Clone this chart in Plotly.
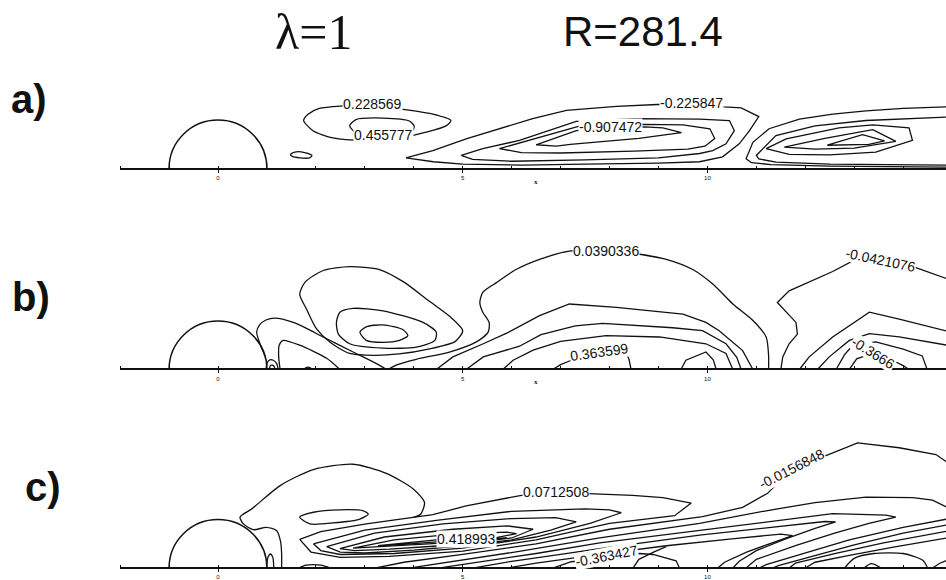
import plotly.graph_objects as go

# ---------------------------------------------------------------- data
# body (half cylinder) and axis
BODY_CENTER = 0.0
BODY_RADIUS = 1.0
AXIS_XMIN = -2.0
TICK_MAJOR = [0, 5, 10]
TICK_MAJOR_TEXT = ["0", "5", "10"]
TICK_MINOR = list(range(-2, 15))
X_TITLE_POS = 6.5

TITLE_LEFT = "λ=1"
TITLE_RIGHT = "R=281.4"
PANEL_TAGS = ["a)", "b)", "c)"]

# ---- panel a : contour lines (x, y) ----
a_pos_outer = [(1.75, 0.99), (1.84, 1.12), (2.07, 1.24), (2.55, 1.29), (3.16, 1.31), (3.78, 1.22),
               (4.39, 1.12), (4.76, 0.99), (4.66, 0.88), (4.25, 0.75), (3.71, 0.63), (2.96, 0.58),
               (2.35, 0.63), (1.94, 0.78), (1.75, 0.99)]
a_pos_inner = [(2.69, 0.88), (2.82, 1.01), (3.37, 1.04), (3.91, 0.98), (4.01, 0.87), (3.95, 0.75),
               (3.38, 0.69), (2.82, 0.74), (2.69, 0.88)]
a_pos_small = [(1.48, 0.29), (1.57, 0.34), (1.77, 0.33), (1.92, 0.27), (1.87, 0.22), (1.67, 0.22),
               (1.52, 0.25), (1.48, 0.29)]
a_neg1_l1 = [(3.84, 0.22), (4.39, 0.37), (5.07, 0.61), (5.76, 0.83), (6.43, 1.03), (7.12, 1.20),
             (8.14, 1.28), (8.98, 1.32), (9.67, 1.33), (10.34, 1.27), (10.69, 1.25), (11.05, 1.07),
             (10.86, 0.78), (10.65, 0.51), (10.31, 0.24), (9.84, 0.14), (9.0, 0.11), (7.5, 0.09),
             (6.2, 0.07), (5.0, 0.09), (4.4, 0.14), (3.84, 0.22)]
a_neg1_l2 = [(4.97, 0.27), (5.41, 0.41), (6.16, 0.58), (6.8, 0.80), (7.32, 0.97), (8.54, 1.03),
             (9.84, 1.02), (10.45, 0.99), (10.55, 0.78), (10.38, 0.51), (10.11, 0.37), (9.84, 0.31),
             (9.0, 0.22), (7.5, 0.18), (6.0, 0.15), (5.2, 0.19), (4.97, 0.27)]
a_neg1_l3 = [(5.75, 0.41), (6.3, 0.57), (6.9, 0.75), (7.4, 0.88), (8.7, 0.91), (9.5, 0.90),
             (10.05, 0.82), (10.15, 0.62), (9.95, 0.46), (9.6, 0.40), (8.5, 0.36), (7.0, 0.32),
             (6.2, 0.33), (5.75, 0.41)]
a_neg1_l4 = [(6.50, 0.49), (7.0, 0.66), (7.32, 0.78), (7.9, 0.84), (8.71, 0.86), (9.09, 0.84),
             (9.47, 0.74), (8.6, 0.62), (7.8, 0.56), (7.2, 0.50), (6.91, 0.46), (6.50, 0.49)]
a_neg2_l1 = [(14.9, 0.03), (12.5, 0.05), (11.3, 0.08), (10.9, 0.12), (10.79, 0.20), (10.93, 0.54),
             (11.26, 0.82), (11.88, 1.02), (12.56, 1.12), (13.24, 1.19), (14.0, 1.24), (14.9, 1.27)]
a_neg2_l2 = [(14.9, 0.07), (12.5, 0.09), (11.4, 0.13), (11.05, 0.20), (11.0, 0.27), (11.40, 0.68),
             (12.2, 0.88), (13.24, 0.99), (14.9, 1.06)]
a_neg2_l3 = [(11.20, 0.41), (11.61, 0.61), (12.69, 0.84), (13.38, 0.90), (14.12, 0.84), (14.19, 0.58),
             (13.44, 0.34), (12.5, 0.28), (11.67, 0.29), (11.20, 0.41)]
a_neg2_l4 = [(11.57, 0.44), (12.4, 0.62), (13.38, 0.80), (13.85, 0.56), (13.0, 0.42), (12.2, 0.40),
             (11.57, 0.44)]
a_neg2_l5 = [(12.45, 0.48), (13.17, 0.70), (13.62, 0.57), (13.3, 0.50), (12.45, 0.48)]
a_labels = [("0.228569", 3.16, 1.33, 0), ("0.455777", 3.38, 0.69, 0),
            ("-0.225847", 9.67, 1.36, 0), ("-0.907472", 8.02, 0.85, 0)]

# ---- panel b ----
b_wall1 = [(0.96, 0.28), (0.85, 0.55), (0.79, 0.77), (0.85, 0.92), (0.98, 1.02), (1.16, 1.06),
           (1.54, 0.97), (2.15, 0.67), (2.76, 0.36), (3.24, 0.12), (3.44, 0.0)]
b_wall2 = [(1.27, 0.0), (1.24, 0.25), (1.25, 0.50), (1.33, 0.60), (1.67, 0.50), (2.22, 0.23),
           (2.49, 0.0)]
b_tiny1 = [(0.98, 0.0), (1.01, 0.15), (1.06, 0.20), (1.13, 0.19), (1.20, 0.12), (1.23, 0.0)]
b_tiny2 = [(1.05, 0.0), (1.07, 0.08), (1.11, 0.09), (1.15, 0.06), (1.16, 0.0)]
b_bump = [(1.75, 0.0), (1.80, 0.04), (1.88, 0.04), (1.93, 0.0)]
b_lobe1 = [(1.67, 1.55), (1.78, 1.80), (2.15, 2.04), (2.69, 2.12), (3.3, 2.06), (3.8, 1.80),
           (4.3, 1.42), (4.75, 1.08), (5.0, 0.80), (4.85, 0.58), (4.3, 0.42), (3.7, 0.32),
           (3.2, 0.29), (2.69, 0.33), (2.29, 0.56), (2.01, 0.84), (1.81, 1.24), (1.67, 1.55)]
b_lobe2 = [(2.42, 0.97), (2.49, 1.18), (2.76, 1.26), (3.37, 1.21), (4.19, 0.97), (4.46, 0.77),
           (4.43, 0.60), (4.05, 0.46), (3.37, 0.44), (2.69, 0.53), (2.46, 0.73), (2.42, 0.97)]
b_lobe3 = [(2.90, 0.77), (3.03, 0.88), (3.37, 0.92), (3.78, 0.82), (3.88, 0.70), (3.71, 0.60),
           (3.37, 0.56), (3.03, 0.60), (2.90, 0.77)]
b_arch = [(3.48, 0.0), (3.64, 0.09), (4.05, 0.21), (4.73, 0.36), (5.28, 0.57), (5.52, 0.77),
          (5.54, 0.97), (5.41, 1.18), (5.35, 1.38), (5.41, 1.59), (5.69, 1.79), (6.09, 2.06),
          (6.6, 2.28), (7.18, 2.44), (7.92, 2.46), (8.65, 2.37), (9.16, 2.27), (9.70, 2.06),
          (10.11, 1.76), (10.52, 1.35), (10.93, 1.01), (11.20, 0.67), (11.25, 0.30), (11.25, 0.0)]
b_arch2 = [(4.46, 0.0), (4.80, 0.26), (5.42, 0.53), (5.9, 0.75), (6.57, 1.11), (7.18, 1.35),
           (8.14, 1.28), (9.50, 1.14), (9.97, 0.97), (10.24, 0.80), (10.72, 0.39), (10.93, 0.0)]
b_arch3 = [(5.07, 0.0), (5.42, 0.26), (6.16, 0.48), (6.6, 0.72), (7.3, 0.90), (7.86, 0.95),
           (9.29, 0.86), (9.90, 0.80), (10.38, 0.53), (10.60, 0.25), (10.69, 0.0)]
b_arch4 = [(5.82, 0.0), (6.03, 0.19), (6.44, 0.40), (7.0, 0.58), (7.93, 0.70), (9.02, 0.67),
           (9.97, 0.53), (10.38, 0.33), (10.52, 0.0)]
b_arch5 = [(6.84, 0.0), (7.0, 0.10), (7.22, 0.19), (7.8, 0.33), (8.34, 0.36), (8.40, 0.2),
           (8.44, 0.0)]
b_arch6 = [(9.46, 0.0), (9.56, 0.19), (9.97, 0.36), (10.12, 0.2), (10.18, 0.0)]
b_neg1 = [(11.5, 0.0), (11.54, 0.26), (11.67, 0.53), (11.84, 0.73), (11.81, 0.97), (11.61, 1.18),
          (11.43, 1.38), (11.67, 1.62), (12.56, 2.02), (12.97, 2.24), (13.51, 2.26), (14.26, 2.10),
          (14.9, 1.87)]
b_neg2 = [(11.88, 0.0), (12.08, 0.26), (12.56, 0.67), (13.31, 1.18), (13.92, 1.04), (14.9, 0.79)]
b_neg3 = [(12.25, 0.0), (12.49, 0.26), (12.9, 0.60), (13.31, 0.74), (13.92, 0.67), (14.9, 0.50)]
b_neg4 = [(12.63, 0.0), (12.8, 0.30), (12.97, 0.50), (13.44, 0.57), (14.0, 0.42), (14.39, 0.28),
          (14.49, 0.0)]
b_neg5 = [(12.9, 0.0), (13.05, 0.22), (13.37, 0.33), (13.8, 0.18), (14.0, 0.08), (14.12, 0.0)]
b_labels = [("0.0390336", 7.92, 2.45, 0), ("-0.0421076", 13.54, 2.25, 12),
            ("0.363599", 7.80, 0.36, -8), ("-0.3666", 13.39, 0.33, 32)]

# ---- panel c ----
c_tiny = [(0.99, 0.0), (1.02, 0.22), (1.07, 0.29), (1.12, 0.22), (1.14, 0.0)]
c_bump = [(1.65, 0.0), (1.80, 0.06), (2.10, 0.06), (2.30, 0.0)]
c_lobe = [(1.30, 0.0), (1.30, 0.30), (1.28, 0.54), (1.20, 0.77), (0.99, 0.84), (0.72, 0.79),
          (0.52, 0.91), (0.45, 1.05), (0.69, 1.22), (1.27, 1.70), (1.95, 2.03), (2.76, 2.14),
          (3.44, 1.95), (3.99, 1.63), (4.22, 1.35), (4.14, 1.11), (4.0, 1.05)]
c_lobe_in = [(1.67, 1.05), (1.95, 1.15), (2.49, 1.20), (2.97, 1.18), (3.07, 1.11), (2.90, 1.01),
             (2.35, 0.93), (1.88, 0.91), (1.67, 1.05)]
c_pos0 = [(1.67, 0.59), (2.1, 0.75), (3.03, 0.91), (4.0, 1.05), (4.39, 1.10), (5.07, 1.28),
          (5.75, 1.42), (6.2, 1.50), (6.91, 1.56), (8.47, 1.50), (9.09, 1.45), (9.67, 1.34),
          (9.33, 1.08), (8.0, 0.92), (6.5, 0.58), (5.0, 0.35), (3.5, 0.24), (2.5, 0.22),
          (1.9, 0.33), (1.67, 0.59)]
c_pos1 = [(1.95, 0.50), (3.0, 0.78), (4.5, 0.99), (6.0, 1.17), (7.5, 1.22), (8.0, 1.20),
          (8.24, 1.14), (7.6, 0.92), (6.5, 0.64), (5.0, 0.41), (3.6, 0.30), (2.5, 0.28),
          (2.1, 0.36), (1.95, 0.50)]
c_pos2 = [(2.22, 0.44), (3.2, 0.72), (4.6, 0.91), (6.0, 1.02), (6.9, 1.04), (7.32, 0.95),
          (6.8, 0.78), (6.0, 0.58), (5.0, 0.46), (4.0, 0.37), (3.0, 0.31), (2.5, 0.33), (2.22, 0.44)]
c_pos3 = [(2.49, 0.40), (3.4, 0.64), (4.8, 0.80), (5.9, 0.87), (6.44, 0.80), (6.0, 0.62),
          (5.2, 0.52), (4.4, 0.45), (3.5, 0.39), (2.8, 0.36), (2.49, 0.40)]
c_pos4 = [(2.76, 0.41), (3.6, 0.58), (4.8, 0.70), (5.9, 0.74), (6.1, 0.71), (5.4, 0.57),
          (4.3, 0.50), (3.4, 0.44), (2.76, 0.41)]
c_pos5 = [(3.27, 0.46), (3.9, 0.53), (4.46, 0.58), (5.1, 0.60), (5.69, 0.62), (5.9, 0.62),
          (5.5, 0.59), (4.6, 0.55), (3.8, 0.49), (3.27, 0.46)]
c_neg0 = [(3.2, 0.0), (3.8, 0.12), (5.0, 0.28), (6.5, 0.50), (8.0, 0.80), (9.3, 0.97), (9.9, 1.06),
          (10.72, 1.25), (11.23, 1.54), (11.71, 2.03), (12.46, 2.34), (13.07, 2.58), (13.92, 2.48),
          (14.67, 2.34), (14.9, 2.18)]
c_neg1 = [(3.9, 0.0), (4.8, 0.14), (6.0, 0.32), (7.8, 0.62), (9.84, 0.92), (11.2, 1.18),
          (12.2, 1.35), (13.24, 1.46), (14.2, 1.45), (14.6, 1.40), (14.9, 1.25)]
c_neg2 = [(4.5, 0.0), (5.4, 0.14), (6.5, 0.30), (7.8, 0.52), (10.52, 0.86), (12.56, 1.12),
          (13.65, 1.09), (13.85, 1.05), (13.3, 0.92), (12.6, 0.72), (11.8, 0.46), (11.0, 0.18),
          (10.79, 0.0)]
c_neg3 = [(5.2, 0.0), (6.0, 0.14), (7.0, 0.28), (7.8, 0.40), (9.84, 0.68), (11.5, 0.86),
          (12.4, 0.96), (12.62, 0.95), (12.2, 0.82), (11.6, 0.60), (11.0, 0.36), (10.65, 0.14),
          (10.52, 0.0)]
c_neg4 = [(5.9, 0.0), (6.5, 0.10), (7.8, 0.28), (9.16, 0.46), (10.5, 0.60), (11.5, 0.70),
          (11.74, 0.67), (11.4, 0.55), (10.8, 0.33), (10.35, 0.12), (10.21, 0.0)]
c_neg5 = [(6.84, 0.0), (7.22, 0.13), (7.93, 0.21), (8.61, 0.30), (8.89, 0.28), (9.36, 0.15),
          (9.43, 0.0)]
c_cross = [(8.48, 0.0), (8.6, 0.18), (8.9, 0.33), (9.16, 0.44)]
c_right1 = [(14.9, 1.01), (14.0, 0.84), (12.9, 0.58), (11.9, 0.28), (11.2, 0.07), (11.06, 0.0)]
c_right0 = [(14.9, 0.89), (14.0, 0.72), (13.0, 0.48), (12.0, 0.20), (11.45, 0.05), (11.33, 0.0)]
c_rise1 = [(11.67, 0.0), (11.8, 0.10), (12.6, 0.30), (13.6, 0.52), (14.9, 0.76)]
c_rise2 = [(12.0, 0.0), (12.2, 0.12), (12.9, 0.26), (13.8, 0.43), (14.9, 0.62)]
c_cell = [(12.8, 0.0), (13.0, 0.20), (13.4, 0.30), (14.0, 0.30), (14.4, 0.16), (14.5, 0.0)]
c_cell_in = [(13.2, 0.0), (13.35, 0.09), (13.55, 0.0)]
c_edge = [(14.6, 0.0), (14.75, 0.10), (14.9, 0.16)]
c_labels = [("0.0712508", 6.91, 1.57, 0), ("0.418993", 5.08, 0.59, 0),
            ("-0.0156848", 11.71, 2.05, -27), ("-0.363427", 7.93, 0.24, -11)]

# ---------------------------------------------------------------- build
W, H = 946, 580
UNIT = 48.94          # pixels per body radius (equal aspect)
X0_PX = 218.0         # pixel column of x = 0
XMAX = (W - X0_PX) / UNIT
XDOM0 = (X0_PX + AXIS_XMIN * UNIT) / W
AXIS_PY = [170.0, 372.7, 573.0]
YTOP = [1.6, 2.7, 2.8]
YBOT = -0.14
FONT_SANS = "Liberation Sans, Arial, sans-serif"

panels = [
    dict(smooth=[a_pos_outer, a_pos_inner, a_pos_small],
         sharp=[a_neg1_l1, a_neg1_l2, a_neg1_l3, a_neg1_l4,
                a_neg2_l1, a_neg2_l2, a_neg2_l3, a_neg2_l4, a_neg2_l5],
         labels=a_labels, xtitle=True),
    dict(smooth=[b_wall1, b_wall2, b_tiny1, b_tiny2, b_bump, b_lobe1, b_lobe2, b_lobe3, b_arch],
         sharp=[b_arch2, b_arch3, b_arch4, b_arch5, b_arch6,
                b_neg1, b_neg2, b_neg3, b_neg4, b_neg5],
         labels=b_labels, xtitle=True),
    dict(smooth=[c_tiny, c_bump, c_lobe, c_lobe_in, c_cell, c_cell_in],
         sharp=[c_pos0, c_pos1, c_pos2, c_pos3, c_pos4, c_pos5,
                c_neg0, c_neg1, c_neg2, c_neg3, c_neg4, c_neg5, c_cross,
                c_right1, c_right0, c_rise1, c_rise2, c_edge],
         labels=c_labels, xtitle=False),
]

fig = go.Figure()
annotations = []
shapes = []
k = 0.5523 * BODY_RADIUS
r = BODY_RADIUS
c0 = BODY_CENTER
body_path = (f"M {c0 - r},0 C {c0 - r},{k} {c0 - k},{r} {c0},{r} "
             f"C {c0 + k},{r} {c0 + r},{k} {c0 + r},0")

for i, p in enumerate(panels):
    sfx = "" if i == 0 else str(i + 1)
    xa, ya = "x" + sfx, "y" + sfx
    for pts in p["smooth"]:
        fig.add_trace(go.Scatter(x=[q[0] for q in pts], y=[q[1] for q in pts], mode="lines",
                                 line=dict(color="#111111", width=1.3, shape="spline", smoothing=0.7),
                                 xaxis=xa, yaxis=ya, hoverinfo="skip", showlegend=False))
    for pts in p["sharp"]:
        fig.add_trace(go.Scatter(x=[q[0] for q in pts], y=[q[1] for q in pts], mode="lines",
                                 line=dict(color="#111111", width=1.3),
                                 xaxis=xa, yaxis=ya, hoverinfo="skip", showlegend=False))
    shapes.append(dict(type="path", path=body_path, xref=xa, yref=ya,
                       line=dict(color="#111111", width=1.5)))
    for txt, lx, ly, ang in p["labels"]:
        annotations.append(dict(x=lx, y=ly, xref=xa, yref=ya, text=txt, showarrow=False,
                                xanchor="center", yanchor="middle",
                                textangle=ang, bgcolor="white", borderpad=0,
                                font=dict(family=FONT_SANS, size=14, color="#111111")))
    if p["xtitle"]:
        annotations.append(dict(x=X_TITLE_POS, y=0, xref=xa, yref=ya, text="<b>x</b>",
                                showarrow=False, xanchor="center", yanchor="middle", yshift=-13,
                                font=dict(family="Liberation Serif", size=7, color="#111111")))
    yb = 1 - (AXIS_PY[i] - YBOT * UNIT) / H
    yt = 1 - (AXIS_PY[i] - YTOP[i] * UNIT) / H
    fig.layout["xaxis" + sfx] = dict(
        range=[AXIS_XMIN, XMAX], domain=[XDOM0, 1.0], anchor="free", position=1 - AXIS_PY[i] / H,
        showline=True, linecolor="#111111", linewidth=2, showgrid=False, zeroline=False,
        tickmode="array", tickvals=TICK_MAJOR, ticktext=TICK_MAJOR_TEXT,
        ticks="outside", ticklen=3, tickwidth=1, tickcolor="#111111",
        tickfont=dict(family=FONT_SANS, size=6, color="#111111"),
        minor=dict(tickmode="array", tickvals=TICK_MINOR, ticks="inside", ticklen=2,
                   tickwidth=1, tickcolor="#111111", showgrid=False),
        fixedrange=True)
    fig.layout["yaxis" + sfx] = dict(range=[YBOT, YTOP[i]], domain=[yb, yt], visible=False,
                                     fixedrange=True)

# titles and panel tags
annotations.append(dict(x=313 / W, y=1 - 32 / H, xref="paper", yref="paper", text=TITLE_LEFT,
                        showarrow=False, xanchor="center", yanchor="middle",
                        font=dict(family="Liberation Serif", size=50, color="#111111")))
annotations.append(dict(x=643 / W, y=1 - 32 / H, xref="paper", yref="paper", text=TITLE_RIGHT,
                        showarrow=False, xanchor="center", yanchor="middle",
                        font=dict(family=FONT_SANS, size=42, color="#111111")))
for tag, (tx, ty) in zip(PANEL_TAGS, [(29, 100), (31, 300), (43, 491)]):
    annotations.append(dict(x=tx / W, y=1 - ty / H, xref="paper", yref="paper",
                            text=f"<b>{tag}</b>", showarrow=False,
                            xanchor="center", yanchor="middle",
                            font=dict(family=FONT_SANS, size=40, color="#111111")))

fig.update_layout(width=W, height=H, margin=dict(l=0, r=0, t=0, b=0),
                  paper_bgcolor="white", plot_bgcolor="white",
                  annotations=annotations, shapes=shapes)
fig.write_html("out.html", config={"displayModeBar": False},
               post_script="document.body.style.margin='0';document.body.style.overflow='hidden';")
